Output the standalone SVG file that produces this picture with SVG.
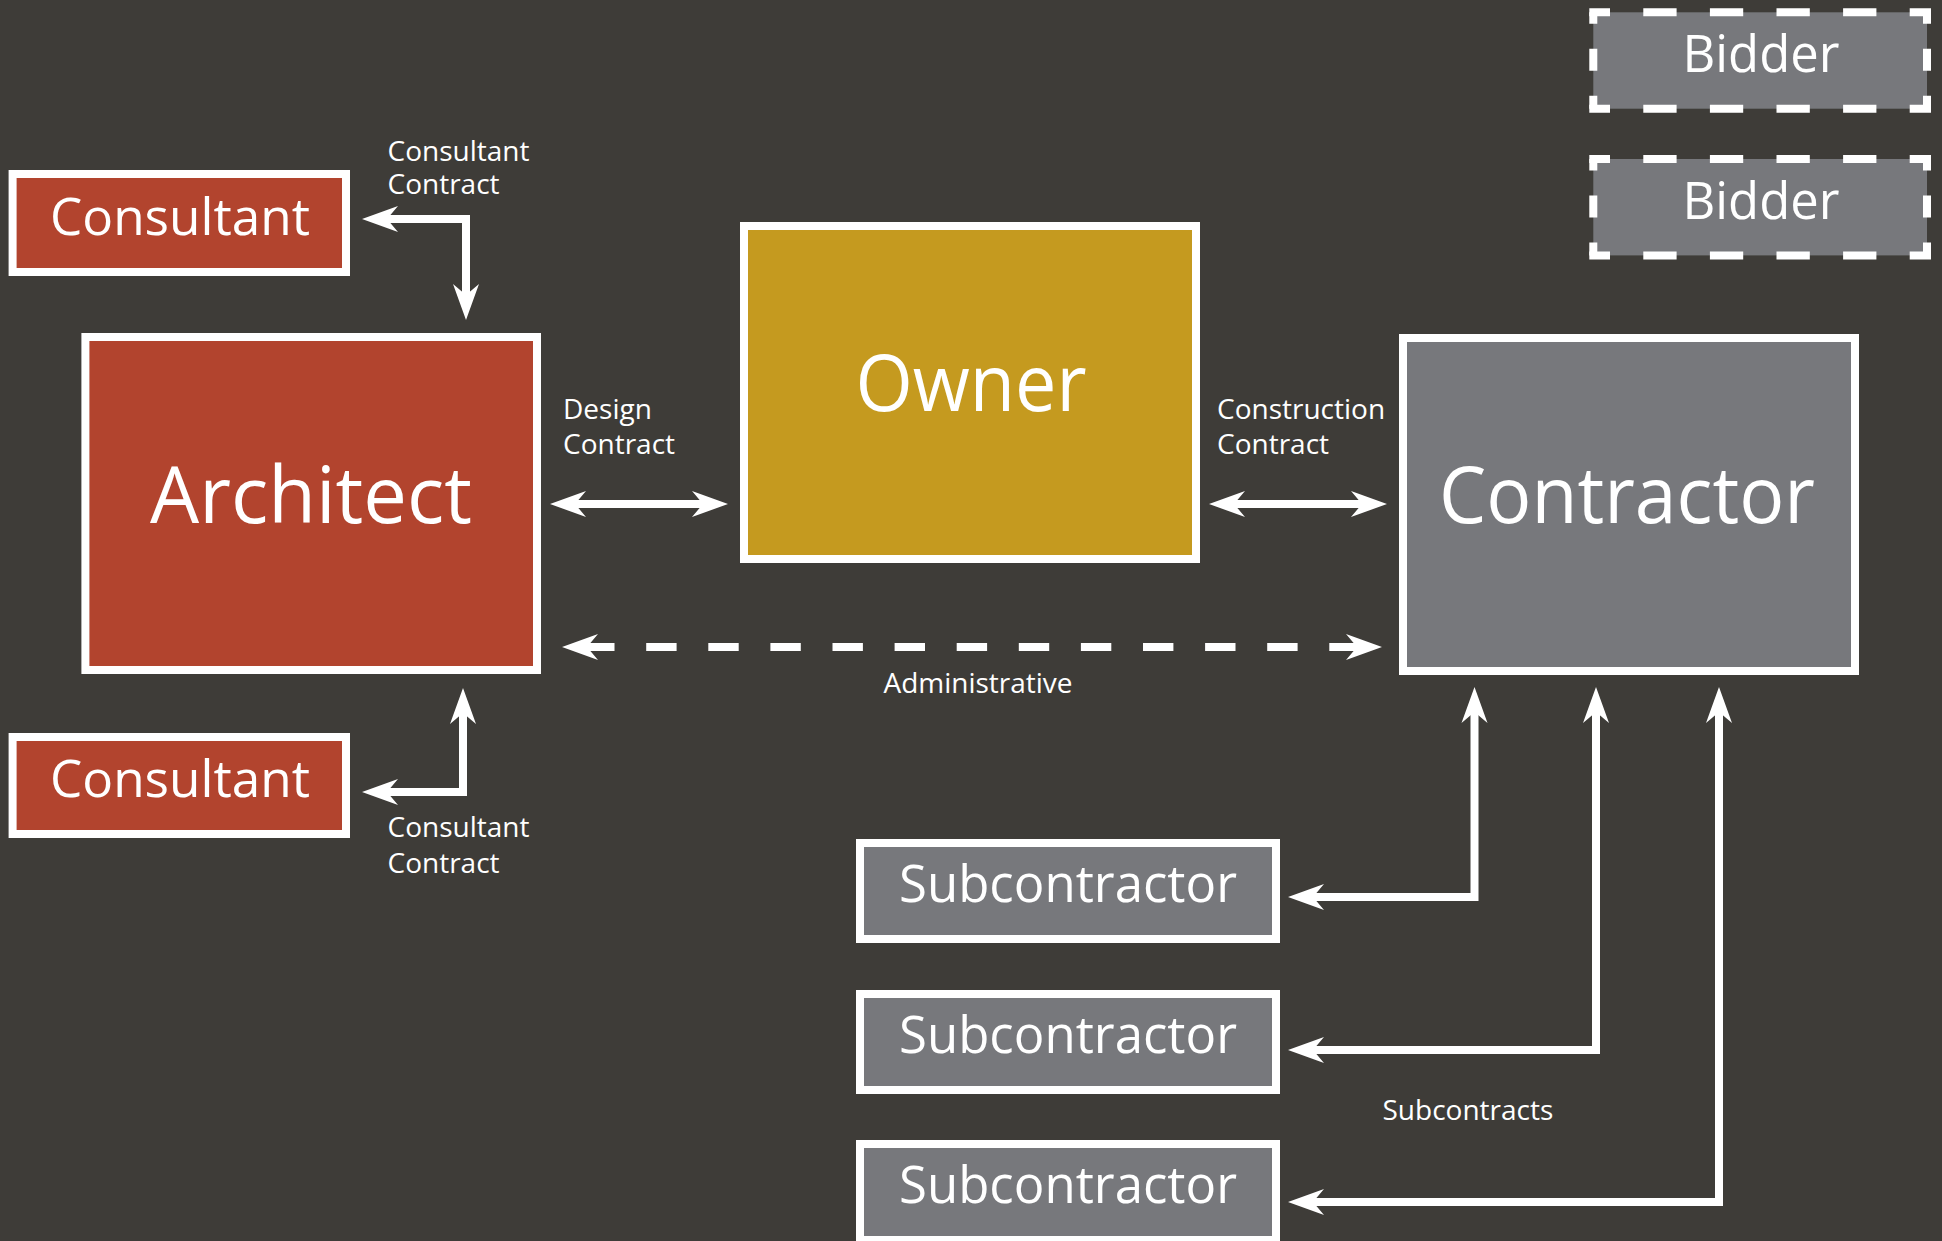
<svg xmlns="http://www.w3.org/2000/svg" width="1942" height="1241" viewBox="0 0 1942 1241">
<style>
text{font-family:"Open Sans","Noto Sans","DejaVu Sans",sans-serif;fill:#ffffff}
.big{font-size:78px;text-anchor:middle}
.mid{font-size:52px;text-anchor:middle}
.sub{font-size:51px;text-anchor:middle}
.lbl{font-size:28px}
.box{stroke:#ffffff;stroke-width:8}
.red{fill:#b2442e}
.gold{fill:#c59a1f}
.gray{fill:#77787c}
.conn{fill:none;stroke:#ffffff;stroke-width:8;stroke-linejoin:miter}
.dash{stroke-dasharray:30.4 31.7;stroke-dashoffset:2.9}
.bh{stroke:#ffffff;stroke-width:8;stroke-dasharray:33.3 33.3;stroke-dashoffset:12.6}
.bv{stroke:#ffffff;stroke-width:8;stroke-dasharray:11.5 25 22 25 13 200}
</style>
<defs>
<marker id="ah" markerUnits="userSpaceOnUse" viewBox="-12 -14 38 28" refX="0" refY="0" markerWidth="38" markerHeight="28" orient="auto-start-reverse">
<path d="M25,0 L-11,-13 L0,0 L-11,13 Z" fill="#ffffff"/>
</marker>
</defs>
<rect x="0" y="0" width="1942" height="1241" fill="#3e3c38"/>

<g id="connectors">
<path class="conn" d="M387,219 L466,219 L466,295" marker-start="url(#ah)" marker-end="url(#ah)"/>
<path class="conn" d="M387,792 L463,792 L463,713" marker-start="url(#ah)" marker-end="url(#ah)"/>
<path class="conn" d="M575,504 L703,504" marker-start="url(#ah)" marker-end="url(#ah)"/>
<path class="conn" d="M1234,504 L1362,504" marker-start="url(#ah)" marker-end="url(#ah)"/>
<path class="conn dash" d="M587,647 L1357,647" marker-start="url(#ah)" marker-end="url(#ah)"/>
<path class="conn" d="M1313,897 L1474.5,897 L1474.5,712" marker-start="url(#ah)" marker-end="url(#ah)"/>
<path class="conn" d="M1313,1050 L1596,1050 L1596,712" marker-start="url(#ah)" marker-end="url(#ah)"/>
<path class="conn" d="M1313,1202 L1719,1202 L1719,712" marker-start="url(#ah)" marker-end="url(#ah)"/>
<text class="lbl" x="387.5" y="161">Consultant</text>
<text class="lbl" x="387.5" y="194">Contract</text>
<text class="lbl" x="387.5" y="837">Consultant</text>
<text class="lbl" x="387.5" y="873">Contract</text>
<text class="lbl" x="563" y="419">Design</text>
<text class="lbl" x="563" y="454">Contract</text>
<text class="lbl" x="1217" y="419">Construction</text>
<text class="lbl" x="1217" y="454">Contract</text>
<text class="lbl" x="978" y="693" text-anchor="middle">Administrative</text>
<text class="lbl" x="1382.5" y="1120">Subcontracts</text>
</g>

<g id="consultant-top">
<rect class="box red" x="12.6" y="174" width="333.4" height="98"/>
<text class="mid" x="180" y="235" textLength="260" lengthAdjust="spacingAndGlyphs">Consultant</text>
</g>
<g id="consultant-bottom">
<rect class="box red" x="12.6" y="737" width="333.4" height="97"/>
<text class="mid" x="180" y="797" textLength="260" lengthAdjust="spacingAndGlyphs">Consultant</text>
</g>
<g id="architect">
<rect class="box red" x="85.4" y="337" width="451.6" height="333"/>
<text class="big" x="311" y="523" textLength="322" lengthAdjust="spacingAndGlyphs">Architect</text>
</g>
<g id="owner">
<rect class="box gold" x="744" y="226" width="452" height="333"/>
<text class="big" x="971" y="411" textLength="231" lengthAdjust="spacingAndGlyphs">Owner</text>
</g>
<g id="contractor">
<rect class="box gray" x="1403" y="338" width="452" height="333"/>
<text class="big" x="1627" y="523" textLength="376" lengthAdjust="spacingAndGlyphs">Contractor</text>
</g>
<g id="bidder-1">
<rect class="gray" x="1593.3" y="12.3" width="333.7" height="96.4"/>
<line class="bh" x1="1589.3" y1="12.3" x2="1931" y2="12.3"/>
<line class="bh" x1="1589.3" y1="108.7" x2="1931" y2="108.7"/>
<line class="bv" x1="1593.3" y1="12.3" x2="1593.3" y2="108.7"/>
<line class="bv" x1="1927" y1="12.3" x2="1927" y2="108.7"/>
<text class="sub" x="1761" y="72" textLength="157" lengthAdjust="spacingAndGlyphs">Bidder</text>
</g>
<g id="bidder-2">
<rect class="gray" x="1593.3" y="159" width="333.7" height="96.4"/>
<line class="bh" x1="1589.3" y1="159" x2="1931" y2="159"/>
<line class="bh" x1="1589.3" y1="255.4" x2="1931" y2="255.4"/>
<line class="bv" x1="1593.3" y1="159" x2="1593.3" y2="255.4"/>
<line class="bv" x1="1927" y1="159" x2="1927" y2="255.4"/>
<text class="sub" x="1761" y="218.5" textLength="157" lengthAdjust="spacingAndGlyphs">Bidder</text>
</g>
<g id="subcontractor-1">
<rect class="box gray" x="860" y="843" width="416" height="96"/>
<text class="sub" x="1068" y="902" textLength="338" lengthAdjust="spacingAndGlyphs">Subcontractor</text>
</g>
<g id="subcontractor-2">
<rect class="box gray" x="860" y="994" width="416" height="96"/>
<text class="sub" x="1068" y="1053" textLength="338" lengthAdjust="spacingAndGlyphs">Subcontractor</text>
</g>
<g id="subcontractor-3">
<rect class="box gray" x="860" y="1144" width="416" height="96"/>
<text class="sub" x="1068" y="1203" textLength="338" lengthAdjust="spacingAndGlyphs">Subcontractor</text>
</g>
</svg>
